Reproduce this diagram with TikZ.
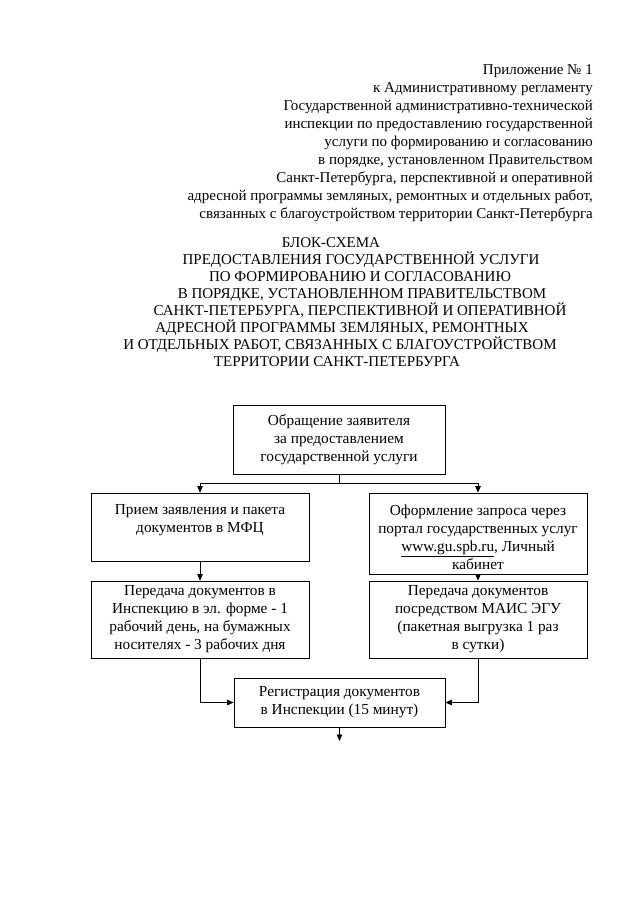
\documentclass[tikz,border=0pt]{standalone}
\usepackage{fontspec}
\setmainfont{Liberation Serif}
\usetikzlibrary{arrows.meta}
\begin{document}
\begin{tikzpicture}[x=1pt,y=-1pt,
  hdr/.style={anchor=base east, inner sep=0pt, font=\fontsize{15}{17}\selectfont},
  ttl/.style={anchor=base, inner sep=0pt, font=\fontsize{15}{17}\selectfont},
  box/.style={draw, line width=0.8pt, align=center, inner sep=0pt, font=\fontsize{15.3}{18}\selectfont},
  conn/.style={line width=0.8pt},
  arr/.style={conn, -{Triangle[length=6.5pt,width=5.5pt]}}
]
\useasboundingbox (0,0) rectangle (640,905);
% header (right aligned)
\node[hdr] (h1) at (593,74) {Приложение № 1};
\node[hdr] (h2) at (593,92) {к Административному регламенту};
\node[hdr] (h3) at (593,110) {Государственной административно-технической};
\node[hdr] (h4) at (593,128) {инспекции по предоставлению государственной};
\node[hdr] (h5) at (593,146) {услуги по формированию и согласованию};
\node[hdr] (h6) at (593,164) {в порядке, установленном Правительством};
\node[hdr] (h7) at (593,182) {Санкт-Петербурга, перспективной и оперативной};
\node[hdr] (h8) at (593,200) {адресной программы земляных, ремонтных и отдельных работ,};
\node[hdr] (h9) at (593,218) {связанных с благоустройством территории Санкт-Петербурга};
% title
\node[ttl] (t1) at (331,247) {БЛОК-СХЕМА};
\node[ttl] (t2) at (361,264.1) {ПРЕДОСТАВЛЕНИЯ ГОСУДАРСТВЕННОЙ УСЛУГИ};
\node[ttl] (t3) at (360,281.2) {ПО ФОРМИРОВАНИЮ И СОГЛАСОВАНИЮ};
\node[ttl] (t4) at (362,298.3) {В ПОРЯДКЕ, УСТАНОВЛЕННОМ ПРАВИТЕЛЬСТВОМ};
\node[ttl] (t5) at (360,315.4) {САНКТ-ПЕТЕРБУРГА, ПЕРСПЕКТИВНОЙ И ОПЕРАТИВНОЙ};
\node[ttl] (t6) at (342,332.5) {АДРЕСНОЙ ПРОГРАММЫ ЗЕМЛЯНЫХ, РЕМОНТНЫХ};
\node[ttl] (t7) at (340,349.6) {И ОТДЕЛЬНЫХ РАБОТ, СВЯЗАННЫХ С БЛАГОУСТРОЙСТВОМ};
\node[ttl] (t8) at (337,366.7) {ТЕРРИТОРИИ САНКТ-ПЕТЕРБУРГА};
% boxes
\node[box, minimum width=212pt, minimum height=69pt] (A) at (339,439.5)
  {Обращение заявителя\\за предоставлением\\государственной услуги};
\node[box, minimum width=218pt, minimum height=68pt] (B) at (200,527)
  {Прием заявления и пакета\\документов в МФЦ\\ \mbox{}};
\node[box, minimum width=218pt, minimum height=81pt] (C) at (478,533.5)
  {\rule{0pt}{19pt}Оформление запроса через\\портал государственных услуг\\\underline{www.gu.spb.ru}, Личный\\кабинет};
\node[box, minimum width=218pt, minimum height=77pt] (D) at (200,619.5)
  {Передача документов в\\Инспекцию в эл. форме - 1\\рабочий день, на бумажных\\носителях - 3 рабочих дня};
\node[box, minimum width=218pt, minimum height=77pt] (E) at (478,619.5)
  {Передача документов\\посредством МАИС ЭГУ\\(пакетная выгрузка 1 раз\\в сутки)};
\node[box, minimum width=211pt, minimum height=49pt] (F) at (339.5,702.5)
  {Регистрация документов\\в Инспекции (15 минут)};
% connectors
\draw[conn] (A.south) -- ++(0,9) coordinate (j);
\draw[arr] (j) -| (B.north);
\draw[arr] (j) -| (C.north);
\draw[arr] (B.south) -- (D.north);
\draw[arr] (C.south) -- (E.north);
\draw[arr] (D.south) |- (F.west);
\draw[arr] (E.south) |- (F.east);
\coordinate (out) at (339.5,741);
\draw[arr] (F.south) -- (out);
\end{tikzpicture}
\end{document}
